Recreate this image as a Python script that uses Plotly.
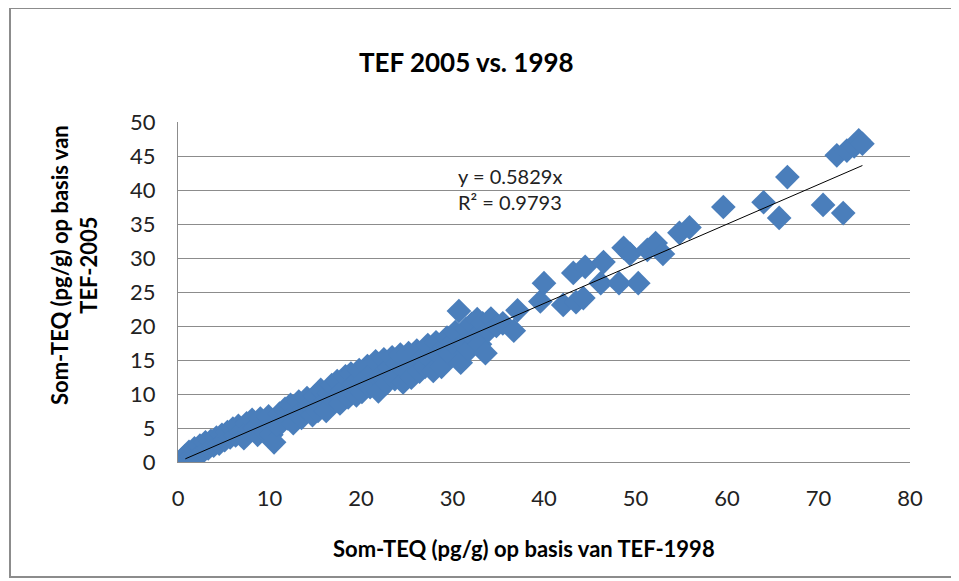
import plotly.graph_objects as go

# Som-TEQ based on TEF-1998 (x) and TEF-2005 (y), pg/g
teq_1998 = [
    0.8, 1.0, 1.2, 1.5, 1.8, 2.1, 2.4, 2.7, 3.0, 3.3, 3.6, 3.9, 4.2, 4.5, 4.8, 5.1,
    5.4, 5.7, 6.0, 6.3, 6.6, 6.9, 7.2, 7.5, 7.8, 8.1, 8.4, 8.7, 9.0, 9.3, 9.6, 9.9,
    10.2, 10.5, 10.8, 11.1, 11.4, 11.7, 12.0, 12.3, 12.6, 12.9, 13.2, 13.5, 13.8, 14.1,
    14.4, 14.7, 15.0, 15.3, 15.6, 15.9, 16.2, 16.5, 16.8, 17.1, 17.4, 17.7, 18.0, 18.3,
    18.6, 18.9, 19.2, 19.5, 19.8, 20.1, 20.4, 20.7, 21.0, 21.3, 21.6, 21.9, 22.2, 22.5,
    22.8, 23.1, 23.4, 23.7, 24.0, 24.3, 24.6, 24.9, 25.2, 25.5, 25.8, 26.1, 26.4, 26.7,
    27.0, 27.3, 27.6, 27.9, 28.2, 28.5, 28.8, 29.1, 29.4, 29.7, 30.0, 30.3, 30.7, 30.9,
    31.2, 31.5, 31.8, 32.1, 32.4, 32.7, 33.0, 33.3, 33.6, 33.9, 34.2, 34.8, 35.5, 36.7,
    37.1, 39.6, 40.0, 42.1, 43.5, 44.3, 43.2, 44.5, 46.5, 46.2, 48.2, 50.3, 48.7, 49.4,
    51.3, 52.2, 53.0, 54.8, 55.9, 59.6, 64.0, 65.7, 66.6, 70.5, 72.7, 72.0, 73.1, 73.9,
    74.4, 74.8,
]
teq_2005 = [
    0.9, 0.4, 1.5, 0.8, 2.0, 1.1, 2.4, 1.5, 2.9, 2.0, 3.1, 2.4, 3.6, 2.7, 4.0, 3.2,
    4.4, 3.6, 4.9, 3.9, 5.3, 4.4, 3.5, 5.7, 4.7, 6.2, 5.0, 4.0, 6.4, 5.1, 4.4, 6.7,
    4.0, 2.9, 5.5, 7.1, 5.9, 7.8, 6.4, 8.4, 5.7, 7.3, 8.9, 6.5, 7.9, 9.4,
    8.3, 6.9, 9.7, 7.5, 10.6, 8.7, 7.5, 10.2, 11.3, 9.0, 11.9, 8.6, 10.5, 12.6,
    9.5, 13.0, 11.4, 9.8, 13.5, 10.3, 12.2, 14.1, 11.0, 13.2, 14.8, 10.4, 12.7, 15.1,
    11.6, 13.9, 15.4, 12.2, 14.5, 15.8, 11.7, 13.6, 16.0, 12.4, 14.8, 16.4, 13.3, 15.4,
    14.0, 17.2, 15.0, 13.4, 17.6, 15.8, 14.0, 16.9, 18.3, 15.9, 17.6, 19.1, 22.2, 14.6,
    17.5, 19.6, 16.5, 20.3, 18.2, 21.0, 17.3, 20.4, 16.0, 19.3, 21.1, 20.0, 20.4, 19.3,
    22.3, 23.6, 26.3, 23.1, 23.5, 24.1, 27.8, 28.7, 29.4, 26.3, 26.3, 26.3, 31.5, 30.6,
    31.2, 32.2, 30.6, 33.7, 34.5, 37.5, 38.2, 35.9, 41.9, 37.8, 36.6, 45.1, 45.8, 46.4,
    47.3, 46.8,
]

slope = 0.5829
r_squared = 0.9793
x_ticks = [0, 10, 20, 30, 40, 50, 60, 70, 80]
y_ticks = [0, 5, 10, 15, 20, 25, 30, 35, 40, 45, 50]

title_text = "TEF 2005 vs. 1998"
x_title = "Som-TEQ (pg/g) op basis van TEF-1998"
y_title = "Som-TEQ (pg/g) op basis van<br>TEF-2005"

FONT = "Lato, 'Open Sans', sans-serif"

fig = go.Figure()
fig.add_trace(go.Scatter(
    x=teq_1998, y=teq_2005, mode="markers",
    marker=dict(symbol="diamond", size=19, color="#4A7EBB", line=dict(width=0)),
    showlegend=False, hoverinfo="x+y",
))
x_line = [min(teq_1998), max(teq_1998)]
fig.add_trace(go.Scatter(
    x=x_line, y=[slope * v for v in x_line], mode="lines",
    line=dict(color="black", width=1), showlegend=False, hoverinfo="skip",
))

W, H = 959, 581
OFF = 8  # page body margin
ml, mr, mt, mb = 170, 57, 114, 127
pw, ph = W - ml - mr, H - mt - mb

def px_x(px):
    return (px - OFF - ml) / pw

def px_y(py):
    return (H - mb - (py - OFF)) / ph

fig.update_layout(
    width=W, height=H,
    margin=dict(l=ml, r=mr, t=mt, b=mb),
    paper_bgcolor="white", plot_bgcolor="white",
    font=dict(family=FONT, color="black"),
    xaxis=dict(
        range=[0, 80], tickvals=x_ticks, showgrid=False, zeroline=False,
        showline=True, linecolor="#8C8C8C", linewidth=1.3,
        ticks="outside", ticklen=16, tickcolor="rgba(0,0,0,0)",
        tickfont=dict(size=22, family=FONT, color="#222"),
    ),
    yaxis=dict(
        range=[0, 50], tickvals=y_ticks, showgrid=True, gridcolor="#8C8C8C",
        gridwidth=1.3, zeroline=False,
        showline=True, linecolor="#8C8C8C", linewidth=1.3,
        ticks="outside", ticklen=17, tickcolor="rgba(0,0,0,0)",
        tickfont=dict(size=22, family=FONT, color="#222"),
    ),
    shapes=[dict(
        type="rect", xref="paper", yref="paper",
        x0=px_x(10), x1=px_x(955), y0=px_y(577), y1=px_y(8),
        line=dict(color="#8C8C8C", width=2), fillcolor="rgba(0,0,0,0)", layer="below",
    )],
    annotations=[
        dict(text="<b>" + title_text + "</b>", xref="paper", yref="paper",
             x=px_x(466), y=px_y(62), showarrow=False, xanchor="center", yanchor="middle",
             font=dict(size=26, family=FONT)),
        dict(text="<b>" + x_title + "</b>", xref="paper", yref="paper",
             x=px_x(524), y=px_y(548), showarrow=False, xanchor="center", yanchor="middle",
             font=dict(size=22, family=FONT)),
        dict(text="<b>" + y_title + "</b>", xref="paper", yref="paper",
             x=px_x(74), y=px_y(265), showarrow=False, xanchor="center", yanchor="middle",
             textangle=-90, font=dict(size=22, family=FONT)),
        dict(text=f"y = {slope}x<br>R² = {r_squared}", xref="paper", yref="paper",
             x=px_x(456), y=px_y(189), showarrow=False, xanchor="left", yanchor="middle",
             align="left", font=dict(size=20, family=FONT, color="#222")),
    ],
)

fig.write_html("out.html")
